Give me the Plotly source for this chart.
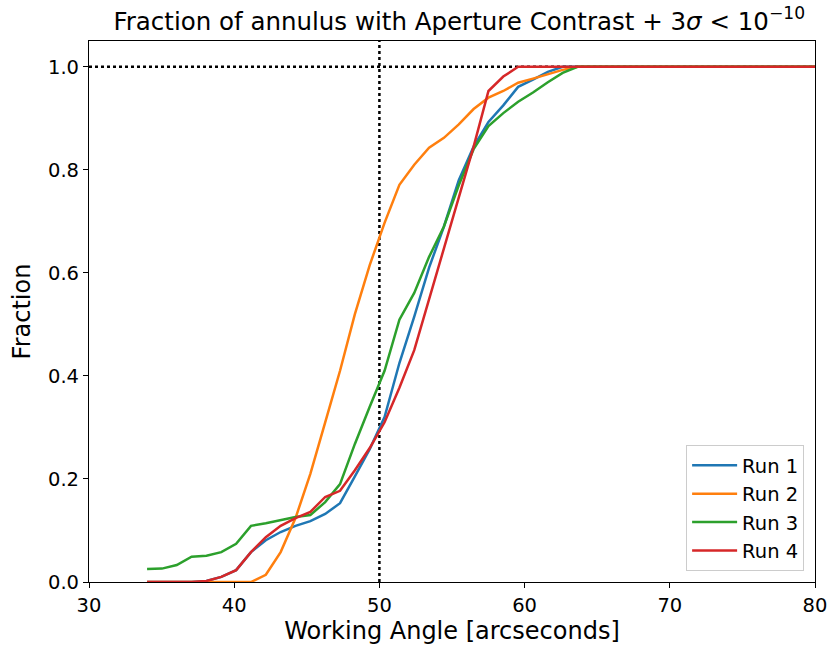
import numpy as np
import plotly.graph_objects as go

angle = list(np.round(np.linspace(34, 80, 46), 4))

run1 = [0.0, 0.0, 0.0, 0.0, 0.002, 0.01, 0.023, 0.058, 0.081, 0.097, 0.109, 0.118, 0.132, 0.153, 0.205, 0.258,
        0.32, 0.425, 0.515, 0.61, 0.69, 0.78, 0.845, 0.893, 0.925, 0.961, 0.975, 0.99, 1.0] + [1.0] * 17
run2 = [0.0] * 7 + [0.0, 0.014, 0.058, 0.124, 0.21, 0.31, 0.41, 0.52, 0.615, 0.697, 0.771, 0.81, 0.843,
        0.862, 0.888, 0.918, 0.94, 0.953, 0.969, 0.977, 0.985, 0.994, 1.0] + [1.0] * 16
run3 = [0.025, 0.026, 0.033, 0.049, 0.051, 0.058, 0.074, 0.109, 0.114, 0.12, 0.126, 0.13, 0.155, 0.19,
        0.268, 0.34, 0.41, 0.509, 0.561, 0.631, 0.69, 0.77, 0.84, 0.885, 0.91, 0.932, 0.95, 0.97, 0.988, 1.0] + [1.0] * 16
run4 = [0.0, 0.0, 0.0, 0.0, 0.002, 0.01, 0.023, 0.058, 0.087, 0.109, 0.124, 0.136, 0.165, 0.177, 0.217, 0.26,
        0.31, 0.377, 0.45, 0.548, 0.645, 0.745, 0.845, 0.953, 0.981, 1.0] + [1.0] * 20

series = [("Run 1", run1, "#1f77b4"), ("Run 2", run2, "#ff7f0e"),
          ("Run 3", run3, "#2ca02c"), ("Run 4", run4, "#d62728")]

fig = go.Figure()
for name, vals, col in series:
    fig.add_trace(go.Scatter(x=angle, y=vals, mode="lines", name=name,
                             line=dict(color=col, width=2.5)))

# reference lines
fig.add_shape(type="line", xref="paper", x0=0, x1=1, yref="y", y0=1, y1=1,
              line=dict(color="black", width=2.5, dash="dot"), layer="below")
fig.add_shape(type="line", xref="x", x0=50, x1=50, yref="paper", y0=0, y1=1,
              line=dict(color="black", width=2.5, dash="dot"), layer="below")

font = "DejaVu Sans"
fig.update_layout(
    width=830, height=656,
    margin=dict(l=89, r=15, t=41, b=74, autoexpand=False),
    paper_bgcolor="white", plot_bgcolor="white",
    font=dict(family=font, color="black", size=20),
    title=dict(text="Fraction of annulus with Aperture Contrast + 3<i>σ</i> &lt; 10<sup>−10</sup>",
               xref="paper", x=0.51, xanchor="center", y=0.968, yanchor="middle",
               font=dict(family=font, size=24.5, color="black")),
    xaxis=dict(range=[30, 80], tickvals=[30, 40, 50, 60, 70, 80], showgrid=False, zeroline=False,
               automargin=False,
               showline=True, linecolor="black", linewidth=1.2, mirror=True,
               ticks="outside", ticklen=5, tickwidth=1.2, tickcolor="black",
               tickfont=dict(size=19.5),
               title=dict(text="Working Angle [arcseconds]", font=dict(size=24), standoff=6)),
    yaxis=dict(range=[0, 1.05], tickvals=[0, 0.2, 0.4, 0.6, 0.8, 1.0], tickformat=".1f",
               showgrid=False, zeroline=False, automargin=False,
               showline=True, linecolor="black", linewidth=1.2, mirror=True,
               ticks="outside", ticklen=5, tickwidth=1.2, tickcolor="black",
               tickfont=dict(size=19.5),
               title=dict(text="Fraction", font=dict(size=24), standoff=10)),
    legend=dict(x=0.985, y=0.02, xanchor="right", yanchor="bottom",
                bgcolor="rgba(255,255,255,0.8)", bordercolor="#cccccc", borderwidth=1,
                font=dict(size=19.5), itemwidth=45, tracegroupgap=2),
    showlegend=True,
)

fig.write_html("out.html")
